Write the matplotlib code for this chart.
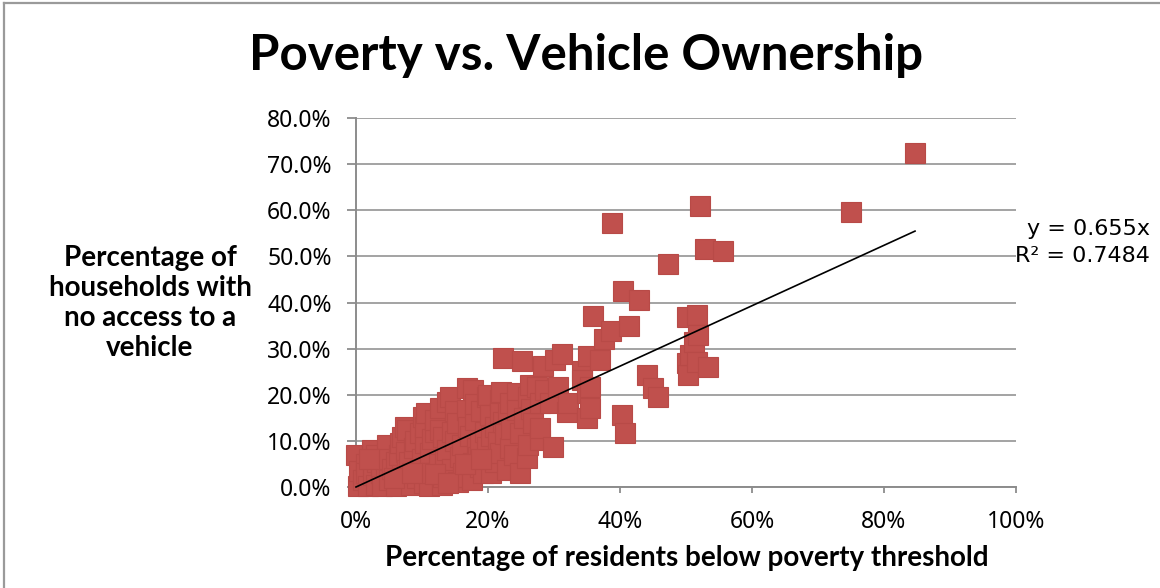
import matplotlib
matplotlib.use("Agg")
import matplotlib.pyplot as plt
from matplotlib.ticker import FuncFormatter
from matplotlib.lines import Line2D

# Census tracts: share of residents below the poverty threshold (%)
poverty_pct = [
    0.0, 0.3, 0.5, 1.0, 1.5, 1.5, 1.8, 2.4, 2.5, 3.0, 3.0, 3.2, 3.8, 4.0, 4.5,
    4.7, 4.8, 5.0, 5.5, 6.0, 6.0, 6.5, 6.7, 7.0, 7.0, 7.4, 7.5, 7.7, 7.7, 8.0,
    8.3, 8.8, 9.0, 9.2, 9.7, 9.7, 10.0, 10.2, 10.3, 10.5, 10.5, 10.6, 11.0, 11.2,
    11.5, 11.5, 12.0, 12.0, 12.5, 12.7, 12.7, 13.0, 13.2, 13.2, 13.5, 13.8, 13.8,
    14.2, 14.5, 14.5, 14.8, 15.0, 15.0, 15.3, 15.5, 15.8, 16.0, 16.2, 16.8, 16.8,
    16.8, 17.0, 17.3, 17.5, 17.7, 17.7, 18.0, 18.0, 18.3, 18.5, 18.8, 18.8, 19.0,
    19.2, 19.5, 19.8, 19.8, 20.0, 20.3, 20.5, 20.5, 21.0, 21.0, 21.5, 21.8, 21.8,
    21.8, 22.0, 22.3, 22.3, 22.5, 22.9, 23.0, 23.3, 23.3, 23.5, 24.0, 24.4, 24.4,
    24.8, 24.8, 25.2, 25.5, 25.9, 26.0, 26.1, 26.4, 26.5, 26.8, 27.4, 27.9, 27.9,
    27.9, 28.3, 28.6, 29.4, 29.8, 30.2, 30.6, 31.2, 32.0, 32.1, 34.2, 34.2, 35.0,
    35.0, 35.2, 35.5, 35.5, 35.9, 37.0, 37.6, 38.6, 38.8, 40.3, 40.5, 40.8, 41.4,
    42.9, 44.1, 45.0, 45.8, 47.3, 50.2, 50.2, 50.3, 50.6, 51.2, 51.7, 51.7, 51.8,
    52.1, 52.9, 53.3, 55.6, 75.0, 84.7,
    12.0, 14.0, 16.5, 19.0, 2.0, 5.8, 8.5,
]

# Same tracts: share of households with no access to a vehicle (%)
no_vehicle_pct = [
    7.0, 0.3, 3.5, 1.5, 5.0, 3.0, 0.2, 8.0, 2.5, 0.5, 7.0, 5.5, 3.0, 0.2, 4.5,
    9.0, 6.0, 1.5, 4.0, 0.3, 5.5, 7.0, 9.5, 10.8, 2.5, 13.0, 7.5, 3.7, 12.4, 5.5,
    0.5, 8.5, 10.0, 2.0, 3.7, 11.7, 6.0, 15.2, 0.8, 9.5, 13.0, 16.0, 0.3, 7.4,
    3.0, 10.5, 12.0, 14.5, 5.0, 12.4, 17.1, 0.5, 10.8, 2.2, 6.0, 18.4, 8.0,
    19.5, 4.0, 12.0, 1.5, 10.0, 16.5, 13.9, 1.0, 6.5, 9.0, 3.0, 21.5, 16.7,
    2.2, 13.0, 11.0, 1.5, 5.2, 21.0, 14.5, 18.0, 8.5, 6.5, 4.3, 9.5, 16.5,
    3.0, 12.0, 19.5, 8.7, 20.0, 15.6, 3.0, 11.0, 5.5, 13.0, 9.8, 18.9, 16.0,
    7.4, 20.5, 28.0, 14.1, 11.5, 3.7, 16.0, 18.2, 8.5, 12.5, 7.0, 20.4, 16.7,
    11.7, 3.0, 27.3, 15.0, 6.3, 9.0, 19.5, 22.1, 17.0, 13.9, 21.7, 10.2, 18.2,
    12.8, 26.2, 21.0, 18.2, 8.7, 27.5, 21.7, 28.8, 16.3, 18.2, 25.2, 23.2, 20.4,
    15.0, 28.4, 21.7, 17.1, 37.1, 27.5, 32.1, 33.8, 57.3, 15.6, 42.5, 11.7, 34.9,
    40.6, 24.3, 21.5, 19.5, 48.4, 36.9, 26.8, 24.3, 28.6, 31.5, 37.3, 27.1, 33.0,
    61.0, 51.6, 26.0, 51.2, 59.6, 72.4,
    2.8, 0.8, 5.0, 6.0, 6.0, 2.0, 3.0,
]

# Linear trend through the origin
trend_slope = 0.655
trend_r2 = 0.7484

x_ticks = [0, 20, 40, 60, 80, 100]
y_ticks = [0, 10, 20, 30, 40, 50, 60, 70, 80]

MARKER_RED = "#C0504D"
GRID_GREY = "#A3A3A3"
AXIS_GREY = "#8C8C8C"

W, H = 1160, 588
fig = plt.figure(figsize=(W / 100, H / 100), dpi=100)
fig.patch.set_facecolor("white")

# chart frame (left and top edges)
fig.add_artist(Line2D([4 / W, 4 / W], [0, 1 - 3 / H], color="#9A9A9A", lw=1.6))
fig.add_artist(Line2D([4 / W, 1], [1 - 3 / H, 1 - 3 / H], color="#9A9A9A", lw=1.6))

left, right = 356 / W, 1016 / W
bottom, top = 1 - 487 / H, 1 - 118 / H
ax = fig.add_axes([left, bottom, right - left, top - bottom])
ax.set_xlim(0, 100)
ax.set_ylim(0, 80)

ax.set_xticks(x_ticks)
ax.set_yticks(y_ticks)
ax.xaxis.set_major_formatter(FuncFormatter(lambda v, p: f"{v:.0f}%"))
ax.yaxis.set_major_formatter(FuncFormatter(lambda v, p: f"{v:.1f}%"))

ax.grid(axis="y", color=GRID_GREY, lw=1.4, zorder=0)
ax.set_axisbelow(True)
for s in ("top", "right"):
    ax.spines[s].set_visible(False)
for s in ("left", "bottom"):
    ax.spines[s].set_color(AXIS_GREY)
    ax.spines[s].set_linewidth(1.4)
    ax.spines[s].set_zorder(1)

ax.tick_params(axis="y", direction="out", length=6.5, width=1.3, color=AXIS_GREY,
               pad=11, labelsize=16.5, labelcolor="black")
ax.tick_params(axis="x", direction="out", length=4.5, width=1.3, color=AXIS_GREY,
               pad=12, labelsize=16.5, labelcolor="black")
for lab in ax.get_xticklabels() + ax.get_yticklabels():
    lab.set_family("Noto Sans")

ax.plot(poverty_pct, no_vehicle_pct, linestyle="none", marker="s", markersize=14.2,
        markerfacecolor=MARKER_RED, markeredgecolor="#B84A47", markeredgewidth=0.8,
        clip_on=False, zorder=3)

x0, x1 = min(poverty_pct), max(poverty_pct)
ax.plot([x0, x1], [trend_slope * x0, trend_slope * x1], color="black", lw=1.2,
        clip_on=False, zorder=4)

fig.text(586 / W, 1 - 55 / H, "Poverty vs. Vehicle Ownership", ha="center", va="center",
         family="Lato", weight="bold", fontsize=35.5)
fig.text(687 / W, 1 - 558 / H, "Percentage of residents below poverty threshold",
         ha="center", va="center", family="Lato", weight="bold", fontsize=20)
fig.text(150 / W, 1 - 303 / H, "Percentage of\nhouseholds with\nno access to a\nvehicle",
         ha="center", va="center", family="Lato", weight="bold", fontsize=20,
         linespacing=1.18)

fig.text(1150 / W, 1 - 229 / H, f"y = {trend_slope}x", ha="right", va="center",
         family="DejaVu Sans", fontsize=16)
fig.text(1150 / W, 1 - 256 / H, f"R\u00b2 = {trend_r2}", ha="right", va="center",
         family="DejaVu Sans", fontsize=16)

fig.savefig("out.png", dpi=100, facecolor="white")
